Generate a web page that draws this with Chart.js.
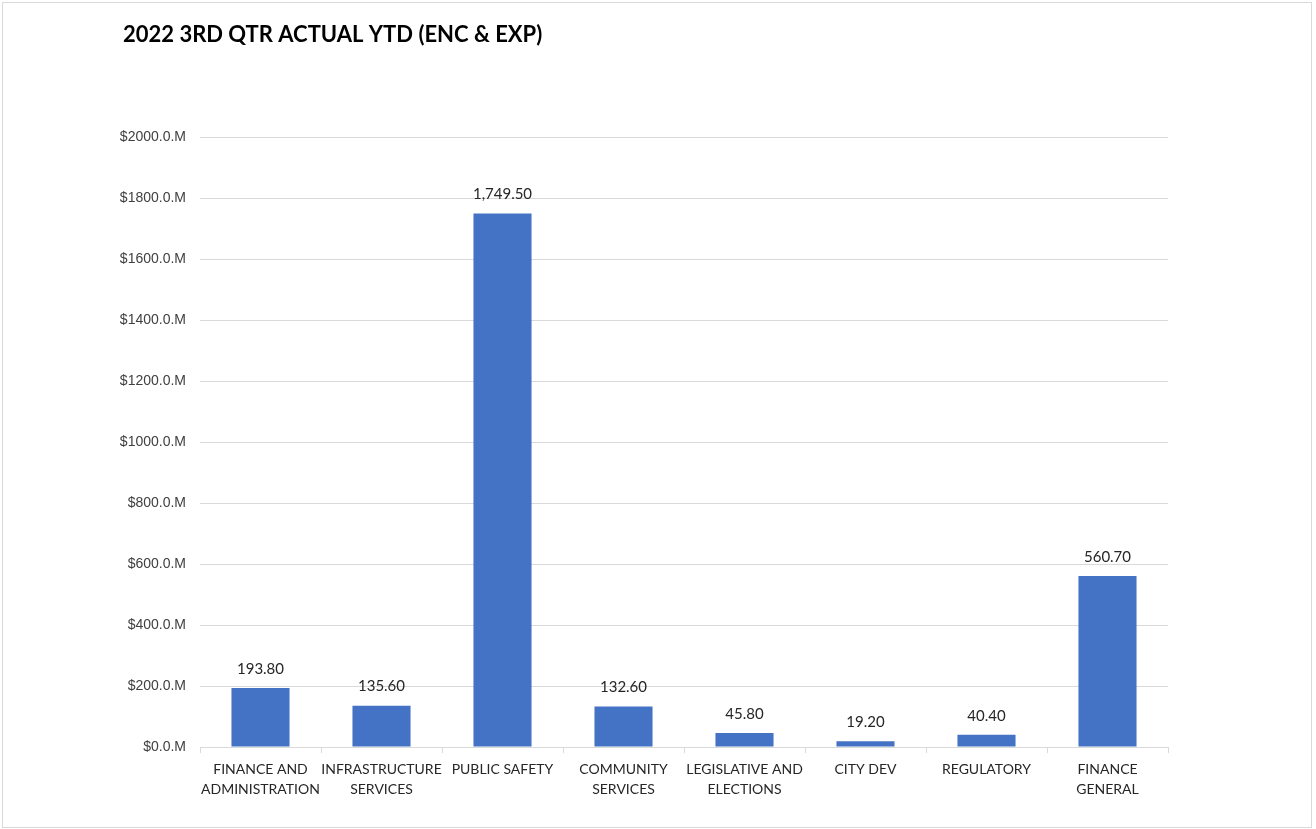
<!DOCTYPE html>
<html>
<head>
<meta charset="utf-8">
<script src="https://cdn.jsdelivr.net/npm/chart.js@4/dist/chart.umd.min.js"></script>
<style>
  html, body { margin: 0; padding: 0; background: #fff; }
  #wrap { position: absolute; left: 0; top: 0; width: 1316px; height: 829px; }
  #frame { position: absolute; left: 2px; top: 2px; width: 1308px; height: 824px; border: 1px solid #d9d9d9; pointer-events: none; }
</style>
</head>
<body>
<div id="wrap">
  <canvas id="c" width="1316" height="829"></canvas>
  <div id="frame"></div>
</div>
<script>
const chartTitle = "2022 3RD QTR ACTUAL YTD (ENC & EXP)";
const categories = [
  ["FINANCE AND", "ADMINISTRATION"],
  ["INFRASTRUCTURE", "SERVICES"],
  ["PUBLIC SAFETY"],
  ["COMMUNITY", "SERVICES"],
  ["LEGISLATIVE AND", "ELECTIONS"],
  ["CITY DEV"],
  ["REGULATORY"],
  ["FINANCE", "GENERAL"]
];
const values = [193.8, 135.6, 1749.5, 132.6, 45.8, 19.2, 40.4, 560.7];
const yMin = 0, yMax = 2000, yStep = 200;

const titlePlugin = {
  id: 'customTitle',
  afterDraw(chart) {
    const ctx = chart.ctx;
    ctx.save();
    ctx.font = 'bold 22px Lato, "Open Sans", sans-serif';
    ctx.fillStyle = '#000';
    ctx.textBaseline = 'middle';
    ctx.textAlign = 'left';
    ctx.fillText(chartTitle, 123, 35);
    ctx.restore();
  }
};

const labelPlugin = {
  id: 'valueLabels',
  afterDatasetsDraw(chart) {
    const ctx = chart.ctx;
    ctx.save();
    ctx.font = '15px Lato, "Open Sans", sans-serif';
    ctx.fillStyle = '#262626';
    ctx.textAlign = 'center';
    ctx.textBaseline = 'middle';
    const meta = chart.getDatasetMeta(0);
    meta.data.forEach((bar, i) => {
      const v = chart.data.datasets[0].data[i];
      const txt = v.toLocaleString('en-US', {minimumFractionDigits: 2, maximumFractionDigits: 2});
      ctx.fillText(txt, bar.x, bar.y - 19);
    });
    ctx.restore();
  }
};

new Chart(document.getElementById('c'), {
  type: 'bar',
  data: {
    labels: categories,
    datasets: [{
      data: values,
      backgroundColor: '#4472C4',
      borderWidth: 0,
      barPercentage: 0.48,
      categoryPercentage: 1.0
    }]
  },
  options: {
    responsive: false,
    animation: false,
    layout: { padding: { left: 0, right: 148, top: 137, bottom: 0 } },
    plugins: {
      legend: { display: false },
      title: { display: false },
      tooltip: { enabled: false }
    },
    scales: {
      x: {
        grid: { display: true, drawOnChartArea: false, offset: true, tickLength: 6, color: '#d9d9d9' },
        border: { display: true, color: '#d9d9d9' },
        ticks: {
          font: { family: 'Lato, "Open Sans", sans-serif', size: 14, lineHeight: 1.4 },
          color: '#262626',
          padding: 7,
          maxRotation: 0,
          autoSkip: false
        },
        afterFit(scale) { scale.height = 82; }
      },
      y: {
        min: yMin,
        max: yMax,
        grid: { color: '#d9d9d9', drawTicks: false },
        border: { display: false },
        ticks: {
          stepSize: yStep,
          padding: 14,
          font: { family: '"Liberation Sans", Arial, sans-serif', size: 14 },
          color: '#404040',
          callback: v => '$' + Number(v).toFixed(1) + '.M'
        },
        afterFit(scale) { scale.width = 200; }
      }
    }
  },
  plugins: [titlePlugin, labelPlugin]
});
</script>
</body>
</html>
